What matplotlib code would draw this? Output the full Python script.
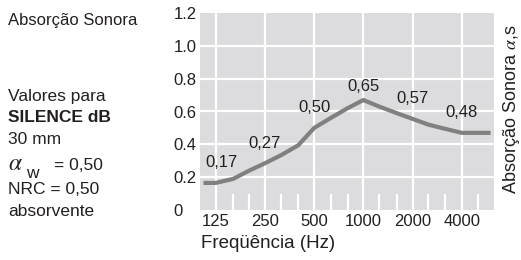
import matplotlib
matplotlib.use('Agg')
import matplotlib.pyplot as plt

# Data
freqs = [105, 125, 160, 200, 250, 315, 400, 500, 630, 800, 1000,
         1250, 1600, 2000, 2500, 3150, 4000, 5000, 6000]
absorption = [0.165, 0.165, 0.19, 0.24, 0.285, 0.335, 0.395, 0.50, 0.56, 0.62, 0.67,
              0.63, 0.59, 0.555, 0.52, 0.495, 0.47, 0.47, 0.47]
label_freqs = [125, 250, 500, 1000, 2000, 4000]
label_texts = ['0,17', '0,27', '0,50', '0,65', '0,57', '0,48']
octave_ticks = [125, 250, 500, 1000, 2000, 4000]
third_octave_ticks = [160, 200, 315, 400, 630, 800, 1250, 1600, 2500, 3150, 5000]
y_ticks = [0, 0.2, 0.4, 0.6, 0.8, 1.0, 1.2]
y_ticklabels = ['0', '0.2', '0.4', '0.6', '0.8', '1.0', '1.2']

plt.rcParams['font.family'] = ['Liberation Sans', 'DejaVu Sans']
plt.rcParams['mathtext.fontset'] = 'stix'

TEXT = '#231F20'
BG_GRAY = '#DCDCDE'
LINE = '#808080'

fig = plt.figure(figsize=(5.21, 2.60), dpi=100)
fig.patch.set_facecolor('white')
ax = fig.add_axes([200 / 521, 1 - 210 / 260, 294 / 521, 197 / 260])
ax.set_facecolor(BG_GRAY)
ax.set_xscale('log')
ax.set_xlim(100, 6300)
ax.set_ylim(0, 1.2)
for s in ax.spines.values():
    s.set_visible(False)

# white grid
for y in y_ticks[1:-1]:
    ax.axhline(y, color='white', lw=1.6, zorder=1)
for f in octave_ticks:
    ax.axvline(f, color='white', lw=1.6, zorder=1)
ax.vlines(third_octave_ticks, 0, 0.1, color='white', lw=1.6, zorder=1)

ax.plot(freqs, absorption, color=LINE, lw=3.0, solid_capstyle='butt', zorder=3)

for f, t in zip(label_freqs, label_texts):
    v = absorption[freqs.index(f)]
    dx = 6 if f == 125 else 0
    dy = 14 if f == 1000 else 20
    ax.annotate(t, (f, v), xytext=(dx, dy), textcoords='offset pixels',
                ha='center', va='center', fontsize=12, color=TEXT)

ax.set_xticks(octave_ticks)
ax.set_xticklabels([str(f) for f in octave_ticks])
ax.xaxis.set_minor_locator(matplotlib.ticker.NullLocator())
ax.set_yticks(y_ticks)
ax.set_yticklabels(y_ticklabels)
ax.tick_params(axis='both', length=0, labelsize=12, colors=TEXT)
ax.tick_params(axis='y', pad=19)
for lbl in ax.get_yticklabels():
    lbl.set_horizontalalignment('left')
ax.tick_params(axis='x', pad=3)

# left text block
X0 = 8 / 521
fig.text(X0, 1 - 20 / 260, 'Absorção Sonora', fontsize=12, color=TEXT, va='center')
fig.text(X0, 1 - 97 / 260, 'Valores para', fontsize=12.5, color=TEXT, va='center')
fig.text(X0, 1 - 117 / 260, 'SILENCE dB', fontsize=12.5, color=TEXT, va='center',
         fontweight='bold')
fig.text(X0, 1 - 140 / 260, '30 mm', fontsize=12.5, color=TEXT, va='center')
fig.text(X0, 1 - 164 / 260, r'$\alpha$', fontsize=17, color=TEXT, va='center')
fig.text(26 / 521, 1 - 173 / 260, 'w', fontsize=12.5, color=TEXT, va='center')
fig.text(54 / 521, 1 - 165 / 260, '= 0,50', fontsize=12.5, color=TEXT, va='center')
fig.text(X0, 1 - 189 / 260, 'NRC = 0,50', fontsize=12.5, color=TEXT, va='center')
fig.text(X0, 1 - 212 / 260, 'absorvente', fontsize=12.5, color=TEXT, va='center')

fig.text(201 / 521, 1 - 244 / 260, 'Freqüência (Hz)', fontsize=13.5, color=TEXT,
         va='center', ha='left')
fig.text(512 / 521, 1 - 194 / 260, r'Absorção Sonora $\alpha$,s', fontsize=13,
         color=TEXT, rotation=90, va='bottom', ha='center')

fig.savefig('out.png', dpi=100, facecolor='white')
